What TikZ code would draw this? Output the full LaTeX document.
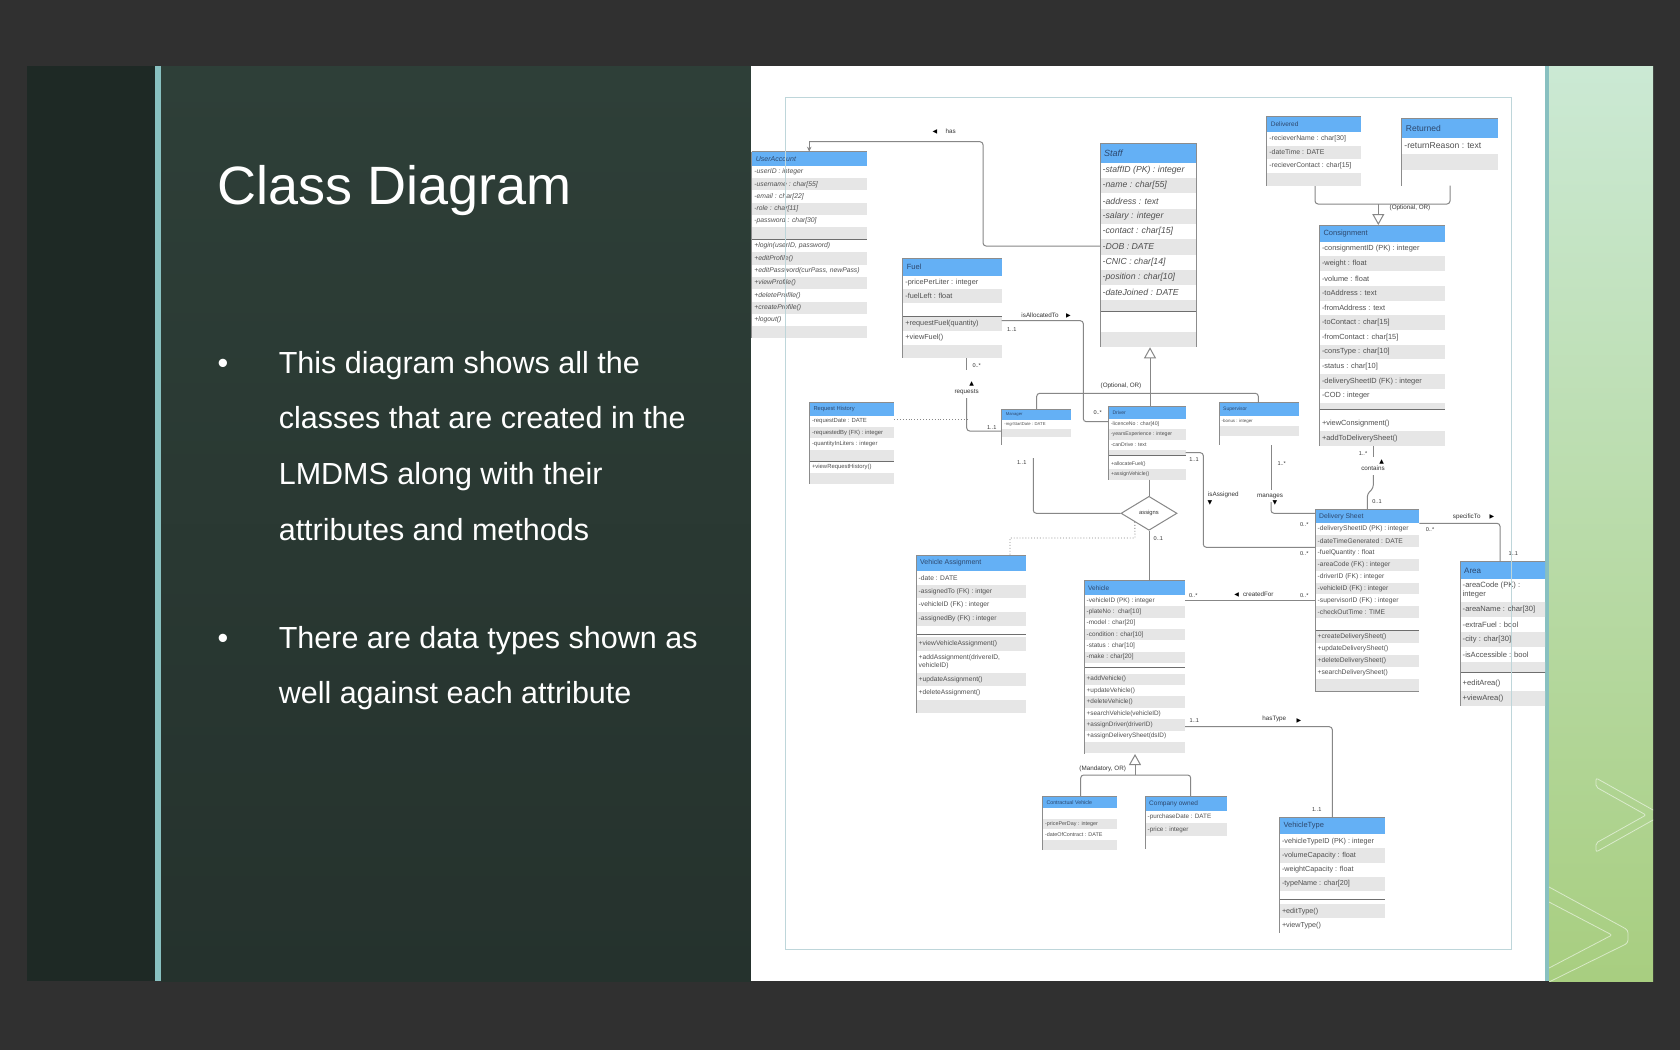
\documentclass[tikz,border=0pt]{standalone}
\usepackage{fontspec}
\setmainfont{Liberation Sans}
\newfontfamily\symfont{DejaVu Sans}
\usetikzlibrary{arrows.meta,shapes.geometric}

\definecolor{outerbg}{RGB}{48,48,48}
\definecolor{stripdark}{RGB}{30,41,37}
\definecolor{tealbar}{RGB}{136,192,192}
\definecolor{panelA}{RGB}{46,63,56}
\definecolor{panelB}{RGB}{37,50,45}
\definecolor{greenA}{RGB}{203,233,212}
\definecolor{greenB}{RGB}{168,206,128}
\definecolor{hblue}{RGB}{100,176,245}
\definecolor{htext}{RGB}{45,72,110}
\definecolor{rowgray}{RGB}{230,230,230}
\definecolor{attrtext}{RGB}{80,80,80}
\definecolor{edgegray}{RGB}{140,140,140}
\definecolor{sepgray}{RGB}{110,110,110}
\definecolor{linkgray}{RGB}{135,135,135}
\definecolor{framec}{RGB}{190,214,218}

\tikzset{
  attr/.style={anchor=west, inner sep=0pt, text=attrtext, align=left},
  htitle/.style={anchor=west, inner sep=0pt, text=htext},
  boxarea/.style={anchor=north west, inner sep=0pt, outer sep=0pt, draw=none},
  link/.style={draw=linkgray, line width=1pt, rounded corners=3pt},
  dotlink/.style={draw=linkgray, line width=0.9pt, dotted},
  gen/.style={draw=linkgray, line width=1pt, -{Triangle[open,length=11pt,width=12pt]}},
  lbl/.style={inner sep=0.4pt, text=black!80, font=\fontsize{6.3}{7}\selectfont},
  mult/.style={inner sep=0.4pt, text=black!80, font=\fontsize{5.6}{6}\selectfont},
  tri/.style={inner sep=0pt, text=black, font=\symfont\fontsize{6}{6}\selectfont},
  bullettext/.style={anchor=base west, inner sep=0pt, text=white, font=\fontsize{30.5}{34}\selectfont},
  bulletdot/.style={anchor=base, inner sep=0pt, text=white, font=\fontsize{30.5}{34}\selectfont},
}

% row font, set before each class
\newcommand\rf{}
% \classbox{name}{x}{y}{w}{h}
\newcommand\classbox[5]{\node[boxarea, minimum width=#4pt, minimum height=#5pt] (#1) at (#2,#3) {};}
% \classhead{name}{x}{y}{w}{h}{font}{title}
\newcommand\classhead[7]{%
  \fill[hblue] (#2,#3) rectangle ++(#4,#5);
  \draw[edgegray, line width=0.7pt] (#2,#3) -- ++(#4,0);
  \node[htitle] (#1-title) at (#2+4,#3+#5/2) {#6#7};
}
% \classrows{prefix}{x}{ytop}{w}{row height}{parity}{items}
\newcommand\classrows[7]{%
  \foreach \rowtext [count=\ri] in {#7} {%
    \pgfmathsetmacro\ry{#3+(\ri-1)*#5}%
    \pgfmathtruncatemacro\sh{mod(\ri+#6,2)}%
    \ifnum\sh=0 \fill[rowgray] (#2,\ry) rectangle ++(#4,#5);\fi
    \node[attr, font=\rf] (#1-\ri) at (#2+2.5,\ry+#5/2) {\rowtext};%
  }%
}
% \classsep{x}{y}{w}
\newcommand\classsep[3]{\draw[sepgray, line width=0.9pt] (#1,#2) -- ++(#3,0);}
% left edge of a class
\newcommand\classedge[1]{\draw[edgegray, line width=0.8pt] (#1.north west) -- (#1.south west);}

\begin{document}
\begin{tikzpicture}[x=1pt,y=-1pt]
\useasboundingbox (0,0) rectangle (1680,1050);

% ---------- slide background ----------
\fill[outerbg] (0,0) rectangle (1680,1050);
\fill[stripdark] (27,66) rectangle (155,981);
\fill[tealbar] (155,66) rectangle (161,981);
\shade[top color=panelA, bottom color=panelB] (161,66) rectangle (751,981);
\fill[white] (751,66) rectangle (1545,981);
\fill[tealbar] (1545,66) rectangle (1549,981);
\shade[top color=greenA, bottom color=greenB] (1549,66) rectangle (1653,981);
\begin{scope}
  \clip (1549,66) rectangle (1653,981);
  \draw[white, opacity=0.55, line width=0.8pt, rounded corners=2pt]
    (1596,778) -- (1662,815) -- (1596,852) -- (1596,843) -- (1646,815) -- (1596,787) -- cycle;
  \draw[white, opacity=0.55, line width=0.8pt, rounded corners=3pt]
    (1549,887) -- (1628,930) -- (1628,943) -- (1549,982);
  \draw[white, opacity=0.55, line width=0.8pt, rounded corners=2pt]
    (1549,902) -- (1612,935) -- (1549,968);
\end{scope}

% ---------- title and bullets ----------
\node[anchor=base west, inner sep=0pt, text=white, font=\fontsize{54}{60}\selectfont] (title) at (217,204) {Class Diagram};
\node[bulletdot] (dot1) at (223,373) {•};
\node[bullettext] (l1) at (278.6,373) {This diagram shows all the};
\node[bullettext] (l2) at (278.6,428.6) {classes that are created in the};
\node[bullettext] (l3) at (278.6,484.3) {LMDMS along with their};
\node[bullettext] (l4) at (278.6,540) {attributes and methods};
\node[bulletdot] (dot2) at (223,648.2) {•};
\node[bullettext] (l5) at (278.6,648.2) {There are data types shown as};
\node[bullettext] (l6) at (278.6,703.9) {well against each attribute};

% ---------- class diagram ----------
\begin{scope}
\clip (751,66) rectangle (1545,981);

% UserAccount
\classbox{ua}{751.7}{151.7}{115}{186.7}
\classhead{ua}{751.7}{151.7}{115}{14.3}{\fontsize{7}{8}\selectfont\itshape}{UserAccount}
\renewcommand\rf{\fontsize{6.8}{8}\selectfont\itshape}
\classrows{ua-a}{751.7}{166}{115}{12.2}{0}{-userID : integer, -username : char[55], -email : char[22], -role : char[11], -password : char[30], {}}
\classsep{751.7}{239.4}{115}
\classrows{ua-m}{751.7}{240}{115}{12.3}{0}{{+login(userID, password)}, +editProfile(), {+editPassword(curPass, newPass)}, +viewProfile(), +deleteProfile(), +createProfile(), +logout(), {}}
\classedge{ua}

% Fuel
\classbox{fuel}{902.7}{258.3}{99}{100.1}
\classhead{fuel}{902.7}{258.3}{99}{17.4}{\fontsize{7.5}{8}\selectfont}{Fuel}
\renewcommand\rf{\fontsize{7.3}{8}\selectfont}
\classrows{fuel-a}{902.7}{275.7}{99}{13.4}{0}{-pricePerLiter : integer, -fuelLeft : float, {}}
\classsep{902.7}{316.3}{99}
\classrows{fuel-m}{902.7}{317}{99}{13.8}{1}{+requestFuel(quantity), +viewFuel(), {}}
\classedge{fuel}

% Staff
\classbox{staff}{1100}{143.3}{96.7}{204}
\classhead{staff}{1100}{143.3}{96.7}{19.4}{\fontsize{9}{10}\selectfont\itshape}{Staff}
\renewcommand\rf{\fontsize{8.7}{10}\selectfont\itshape}
\classrows{staff-a}{1100}{162.7}{96.7}{15.3}{0}{-staffID (PK) : integer, -name : char[55], -address : text, -salary : integer, -contact : char[15], -DOB : DATE, -CNIC : char[14], -position : char[10], -dateJoined : DATE}
\fill[rowgray] (1100,300.4) rectangle (1196.7,311);
\classsep{1100}{311.5}{96.7}
\fill[rowgray] (1100,332) rectangle (1196.7,347.3);
\classedge{staff}
\draw[edgegray, line width=0.8pt] (staff.north east) -- (staff.south east);

% Delivered
\classbox{delivered}{1266.7}{116}{94}{70}
\classhead{delivered}{1266.7}{116}{94}{16}{\fontsize{6.5}{7}\selectfont}{Delivered}
\renewcommand\rf{\fontsize{6.9}{8}\selectfont}
\classrows{delivered-a}{1266.7}{132}{94}{13.5}{0}{-recieverName : char[30], -dateTime : DATE, -recieverContact : char[15], {}}
\classedge{delivered}

% Returned
\classbox{returned}{1401.7}{118.3}{96.6}{67.4}
\classhead{returned}{1401.7}{118.3}{96.6}{19.4}{\fontsize{8.5}{9}\selectfont}{Returned}
\renewcommand\rf{\fontsize{8.6}{9}\selectfont}
\classrows{returned-a}{1401.7}{137.7}{96.6}{16}{0}{-returnReason : text, {}, {}}
\classedge{returned}

% Consignment
\classbox{consign}{1319.3}{225}{125.7}{221}
\classhead{consign}{1319.3}{225}{125.7}{16.7}{\fontsize{7.5}{8}\selectfont}{Consignment}
\renewcommand\rf{\fontsize{7.4}{8}\selectfont}
\classrows{consign-a}{1319.3}{241.7}{125.7}{14.7}{0}{-consignmentID (PK) : integer, -weight : float, -volume : float, -toAddress : text, -fromAddress : text, -toContact : char[15], -fromContact : char[15], -consType : char[10], -status : char[10], -deliverySheetID (FK) : integer, -COD : integer}
\fill[rowgray] (1319.3,403.4) rectangle (1445,409.3);
\classsep{1319.3}{409.8}{125.7}
\classrows{consign-m}{1319.3}{416}{125.7}{15}{0}{+viewConsignment(), +addToDeliverySheet()}
\classedge{consign}

% Delivery Sheet
\classbox{ds}{1315}{509.3}{104.3}{182.4}
\classhead{ds}{1315}{509.3}{104.3}{14}{\fontsize{6.8}{7}\selectfont}{Delivery Sheet}
\renewcommand\rf{\fontsize{6.7}{7}\selectfont}
\classrows{ds-a}{1315}{523.3}{104.3}{11.85}{0}{-deliverySheetID (PK) : integer, -dateTimeGenerated : DATE, -fuelQuantity : float, -areaCode (FK) : integer, -driverID (FK) : integer, -vehicleID (FK) : integer, -supervisorID (FK) : integer, -checkOutTime : TIME, {}}
\classsep{1315}{630}{104.3}
\classrows{ds-m}{1315}{631}{104.3}{11.9}{1}{+createDeliverySheet(), +updateDeliverySheet(), +deleteDeliverySheet(), +searchDeliverySheet(), {}}
\classedge{ds}
\draw[edgegray, line width=0.8pt] (ds.south west) -- (ds.south east);

% Area
\classbox{area}{1460}{561.7}{100}{144}
\classhead{area}{1460}{561.7}{100}{17.3}{\fontsize{8}{9}\selectfont}{Area}
\renewcommand\rf{\fontsize{7.6}{9}\selectfont}
\node[attr, font=\rf] (area-a-0) at (1462.5,590.5) {-areaCode (PK) :\\integer};
\classrows{area-a}{1460}{602}{100}{15}{1}{-areaName : char[30], -extraFuel : bool, -city : char[30], -isAccessible : bool}
\fill[rowgray] (1460,662) rectangle (1560,672.3);
\classsep{1460}{672.8}{100}
\classrows{area-m}{1460}{676.5}{100}{14.5}{0}{+editArea(), +viewArea()}
\classedge{area}

% Request History
\classbox{rh}{809.3}{402.3}{84.7}{81.7}
\classhead{rh}{809.3}{402.3}{84.7}{13.4}{\fontsize{5.8}{6}\selectfont}{Request History}
\renewcommand\rf{\fontsize{5.9}{6}\selectfont}
\classrows{rh-a}{809.3}{415.7}{84.7}{11.3}{0}{-requestDate : DATE, -requestedBy (FK) : integer, -quantityInLiters : integer, {}}
\classsep{809.3}{461.2}{84.7}
\classrows{rh-m}{809.3}{461.8}{84.7}{11.1}{0}{+viewRequestHistory(), {}}
\classedge{rh}

% Manager
\classbox{manager}{1001.7}{409.3}{69.3}{35.7}
\classhead{manager}{1001.7}{409.3}{69.3}{10.7}{\fontsize{4.2}{5}\selectfont}{Manager}
\renewcommand\rf{\fontsize{4.2}{5}\selectfont}
\classrows{manager-a}{1001.7}{420}{69.3}{8.6}{0}{-mgrStartDate : DATE, {}}
\classedge{manager}

% Driver
\classbox{driver}{1108.3}{406}{77.4}{73.5}
\classhead{driver}{1108.3}{406}{77.4}{12.7}{\fontsize{5}{6}\selectfont}{Driver}
\renewcommand\rf{\fontsize{5.2}{6}\selectfont}
\classrows{driver-a}{1108.3}{418.7}{77.4}{10.4}{0}{-licenceNo : char[40], -yearsExperience : integer, -canDrive : text}
\fill[rowgray] (1108.3,449.9) rectangle (1185.7,455);
\classsep{1108.3}{455.4}{77.4}
\classrows{driver-m}{1108.3}{458.5}{77.4}{10.5}{0}{+allocateFuel(), +assignVehicle()}
\classedge{driver}

% Supervisor
\classbox{supervisor}{1219}{402.7}{79.6}{42.3}
\classhead{supervisor}{1219}{402.7}{79.6}{13.3}{\fontsize{5}{6}\selectfont}{Supervisor}
\renewcommand\rf{\fontsize{4.4}{5}\selectfont}
\classrows{supervisor-a}{1219}{416}{79.6}{10}{0}{-bonus : integer, {}}
\classedge{supervisor}

% Vehicle Assignment
\classbox{va}{916}{555}{109.7}{157.7}
\classhead{va}{916}{555}{109.7}{15.7}{\fontsize{7}{8}\selectfont}{Vehicle Assignment}
\renewcommand\rf{\fontsize{6.7}{7.6}\selectfont}
\classrows{va-a}{916}{570.7}{109.7}{13.8}{0}{-date : DATE, -assignedTo (FK) : intger, -vehicleID (FK) : integer, -assignedBy (FK) : integer}
\classsep{916}{634.5}{109.7}
\classrows{va-m}{916}{637}{109.7}{14}{1}{+viewVehicleAssignment()}
\node[attr, font=\rf] (va-m-add) at (918.5,662) {+addAssignment(drivereID,\\ vehicleID)};
\classrows{va-n}{916}{673}{109.7}{13.3}{1}{+updateAssignment(), +deleteAssignment(), {}}
\classedge{va}

% Vehicle
\classbox{vehicle}{1084}{580.7}{101}{173.3}
\classhead{vehicle}{1084}{580.7}{101}{14.3}{\fontsize{6.5}{7}\selectfont}{Vehicle}
\renewcommand\rf{\fontsize{6.4}{7}\selectfont}
\classrows{vehicle-a}{1084}{595}{101}{11.3}{0}{-vehicleID (PK) : integer, -plateNo :\ \ char[10], -model : char[20], -condition : char[10], -status : char[10], -make : char[20]}
\classsep{1084}{667.3}{101}
\classrows{vehicle-m}{1084}{673.6}{101}{11.4}{1}{+addVehicle(), +updateVehicle(), +deleteVehicle(), +searchVehicle(vehicleID), +assignDriver(driverID), +assignDeliverySheet(dsID), {}}
\classedge{vehicle}

% Contractual Vehicle
\classbox{cv}{1042.3}{796}{74.4}{54}
\classhead{cv}{1042.3}{796}{74.4}{12.3}{\fontsize{5.3}{6}\selectfont}{Contractual Vehicle}
\renewcommand\rf{\fontsize{5.4}{6}\selectfont}
\classrows{cv-a}{1042.3}{808.3}{74.4}{10.4}{0}{{}, -pricePerDay : integer, -dateOfContract : DATE, {}}
\classedge{cv}

% Company owned
\classbox{co}{1145}{796}{81.7}{52.5}
\classhead{co}{1145}{796}{81.7}{14.7}{\fontsize{6.5}{7}\selectfont}{Company owned}
\renewcommand\rf{\fontsize{6.3}{7}\selectfont}
\classrows{co-a}{1145}{810.7}{81.7}{12.6}{0}{-purchaseDate : DATE, -price : integer, {}}
\classedge{co}

% VehicleType
\classbox{vt}{1279.3}{817.7}{105.7}{115}
\classhead{vt}{1279.3}{817.7}{105.7}{16.3}{\fontsize{7.5}{8}\selectfont}{VehicleType}
\renewcommand\rf{\fontsize{7.2}{8}\selectfont}
\classrows{vt-a}{1279.3}{834}{105.7}{14.3}{0}{-vehicleTypeID (PK) : integer, -volumeCapacity : float, -weightCapacity : float, -typeName : char[20]}
\classsep{1279.3}{899.5}{105.7}
\classrows{vt-m}{1279.3}{904}{105.7}{14.3}{1}{+editType(), +viewType()}
\classedge{vt}

% ---------- connectors ----------
% Staff has UserAccount
\coordinate (hasbend) at (809.2,141.7);
\draw[link] (staff.west |- 0,246) -- (983,246) -- (983,141.7) -- (hasbend);
\draw[draw=linkgray, line width=1pt, -{Stealth[length=5pt,width=4.5pt]}] (hasbend) -- (ua.north);
% Fuel isAllocatedTo Driver
\draw[link] (fuel.east |- 0,320.7) -- (1083.3,320.7) -- (1083.3,421.7) -- (driver.west |- 0,421.7);
% Manager requests Fuel
\coordinate (rq1) at (966.7,370);
\coordinate (rq2) at (966.7,398);
\coordinate (rqmid) at (966.7,419.3);
\draw[link] (fuel.south -| rq1) -- (rq1);
\draw[link] (rq2) -- (966.7,431) -- (manager.west |- 0,431);
\draw[dotlink] (rh.east |- rqmid) -- (rqmid);
% Staff specialisation
\coordinate (sg) at (1150,393.3);
\draw[link] (manager.north -| 1036.7,0) -- (1036.7,393.3) -- (1258.3,393.3) -- (supervisor.north -| 1258.3,0);
\draw[link] (driver.north -| sg) -- (sg);
\draw[gen] (sg) -- (staff.south -| sg);
% Consignment specialisation
\coordinate (cg) at (1378.3,204);
\draw[link] (delivered.south -| 1315,0) -- (1315,204) -- (1450,204) -- (returned.south -| 1450,0);
\draw[gen] (cg) -- (consign.north -| cg);
% Delivery Sheet contains Consignment
\coordinate (ct1) at (1373.3,457);
\coordinate (ct2) at (1373.3,475);
\draw[link] (consign.south -| ct1) -- (ct1);
\draw[link] (ct2) -- (1373.3,488) -- (1367.3,494) -- (ds.north -| 1367.3,0);
% Delivery Sheet specificTo Area
\draw[link] (ds.east |- 0,523.3) -- (1500,523.3) -- (area.north -| 1500,0);
% Supervisor manages Delivery Sheet
\coordinate (mg1) at (1271,490);
\coordinate (mg2) at (1271,502);
\draw[link] (supervisor.south -| mg1) -- (mg1);
\draw[link] (mg2) -- (1271,513.3) -- (ds.west |- 0,513.3);
% Driver isAssigned Delivery Sheet
\draw[link] (driver.east |- 0,452.7) -- (1203.3,452.7) -- (1203.3,547.3) -- (ds.west |- 0,547.3);
% Delivery Sheet createdFor Vehicle
\draw[link] (vehicle.east |- 0,600) -- (ds.west |- 0,600);
% Manager assigns Vehicle to Driver
\node[diamond, draw=linkgray, line width=1pt, fill=white, minimum width=56pt, minimum height=34pt, inner sep=0pt, aspect=1.65, text=black!80, font=\fontsize{5.8}{6}\selectfont] (asg) at (1149,513.3) {assigns};
\coordinate (mgrlink) at (1033.3,458);
\draw[link] (driver.south -| asg) -- (asg.north);
\draw[link] (mgrlink) -- (1033.3,513.3) -- (asg.west);
\draw[link] (asg.south) -- (vehicle.north -| asg);
\draw[dotlink] (asg.south west) -- (1135,538) -- (1010,538) -- (va.north -| 1010,0);
% Vehicle hasType VehicleType
\draw[link] (vehicle.east |- 0,726.7) -- (1332.3,726.7) -- (vt.north -| 1332.3,0);
% Vehicle specialisation
\coordinate (vg) at (1135,775);
\draw[link] (cv.north -| 1080.7,0) -- (1080.7,775) -- (1190.7,775) -- (co.north -| 1190.7,0);
\draw[gen] (vg) -- (vehicle.south -| vg);

% ---------- connector labels ----------
\node[tri] (t-has) at (935,131.7) {◀};
\node[lbl, anchor=west] (l-has) at (945,131.7) {has};
\node[lbl] (l-alloc) at (1040,315.7) {isAllocatedTo};
\node[tri] (t-alloc) at (1068.3,315.7) {▶};
\node[mult] (m-alloc1) at (1011.7,329.3) {1..1};
\node[mult] (m-alloc2) at (1097.7,412.7) {0..*};
\node[mult] (m-req1) at (976.7,366) {0..*};
\node[tri] (t-req) at (971.7,384.3) {▲};
\node[lbl] (l-req) at (966.7,391.7) {requests};
\node[mult] (m-req2) at (991.7,427.7) {1..1};
\node[lbl] (l-opt1) at (1121,386) {(Optional, OR)};
\node[lbl] (l-opt2) at (1410,208.3) {(Optional, OR)};
\node[mult] (m-ct1) at (1363,453.3) {1..*};
\node[tri] (t-ct) at (1381.7,461.7) {▲};
\node[lbl] (l-ct) at (1373,468.3) {contains};
\node[mult] (m-ct2) at (1377,501.7) {0..1};
\node[lbl] (l-spec) at (1466.7,517.3) {specificTo};
\node[tri] (t-spec) at (1492,517.3) {▶};
\node[mult] (m-spec1) at (1430,530) {0..*};
\node[mult] (m-spec2) at (1513.3,553.3) {1..1};
\node[mult] (m-mg1) at (1281.7,463.3) {1..*};
\node[lbl, fill=white] (l-mg) at (1270,496) {manages};
\node[tri] (t-mg) at (1275,502.7) {▼};
\node[mult] (m-mg2) at (1304.3,524.3) {0..*};
\node[mult] (m-ia1) at (1194,460) {1..1};
\node[lbl] (l-ia) at (1223.3,495) {isAssigned};
\node[tri] (t-ia) at (1210,503.3) {▼};
\node[mult] (m-ia2) at (1304.3,553.3) {0..*};
\node[mult] (m-cf1) at (1193.3,596) {0..*};
\node[tri] (t-cf) at (1236.7,595.3) {◀};
\node[lbl] (l-cf) at (1258.3,594.7) {createdFor};
\node[mult] (m-cf2) at (1304.3,596) {0..*};
\node[mult] (m-as1) at (1021.7,462.7) {1..1};
\node[mult] (m-as2) at (1158.3,539) {0..1};
\node[mult] (m-ht1) at (1194.3,720.7) {1..1};
\node[lbl] (l-ht) at (1274.3,719.3) {hasType};
\node[tri] (t-ht) at (1299,720.7) {▶};
\node[mult] (m-ht2) at (1316.7,810) {1..1};
\node[lbl] (l-mand) at (1102.7,769.3) {(Mandatory, OR)};

% inner frame of the diagram page
\draw[framec, line width=1pt] (785,97.5) rectangle (1511,949);
\end{scope}
\end{tikzpicture}
\end{document}
